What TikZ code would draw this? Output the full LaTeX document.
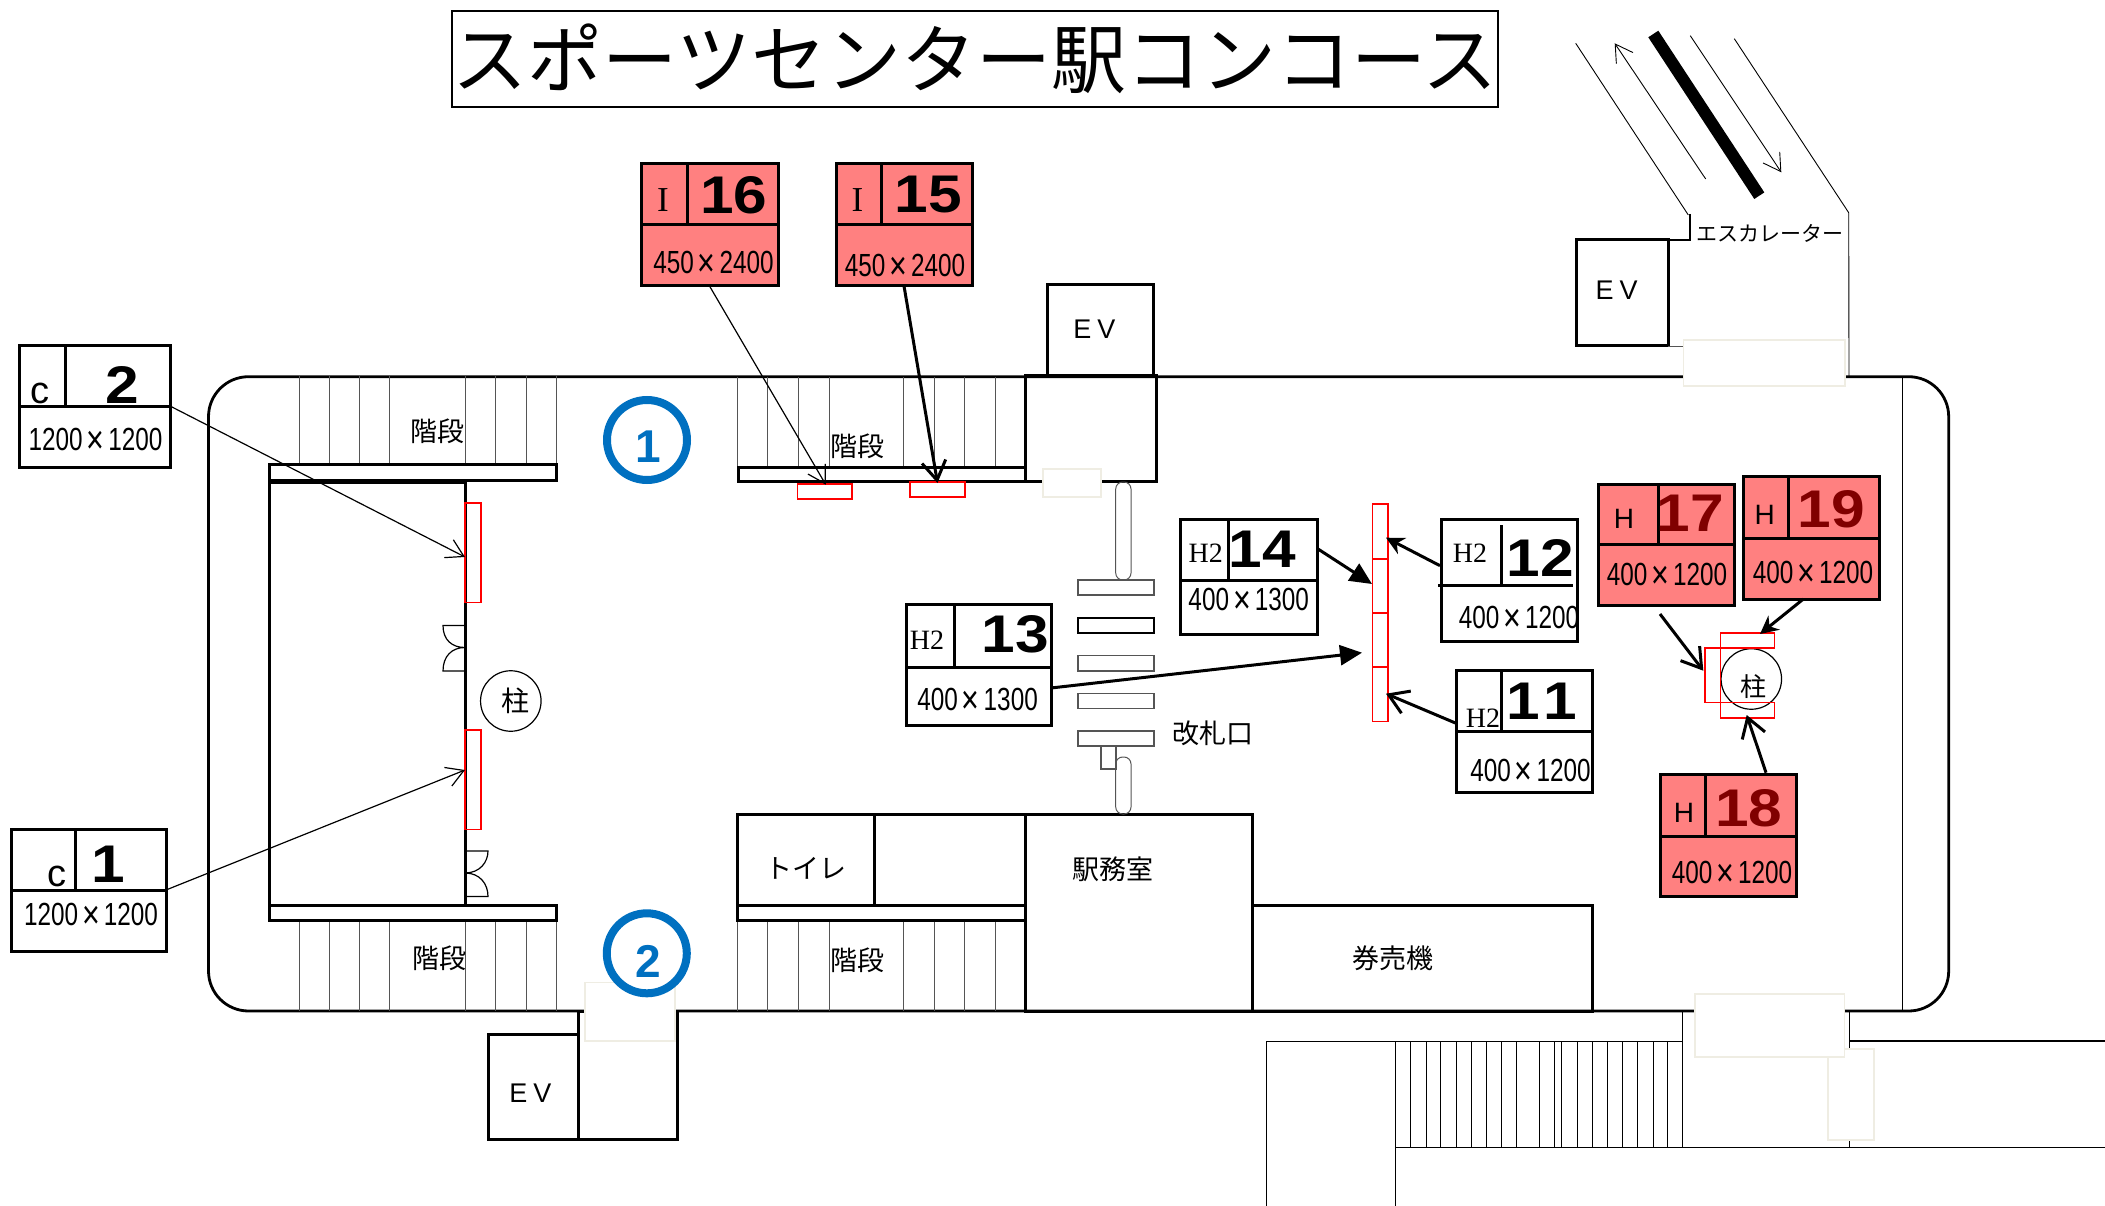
\documentclass[tikz,border=0pt]{standalone}
\usepackage{graphicx}
\usepackage{fontspec}
\usetikzlibrary{arrows.meta}
\setmainfont{Noto Sans CJK JP}
\newfontfamily\numf[FakeStretch=1.14]{Liberation Sans}
\newfontfamily\dimf[FakeStretch=0.76]{Liberation Sans}
\newfontfamily\plainf{Liberation Sans}
\newfontfamily\serf{Liberation Serif}
\newcommand{\fnum}{\numf\bfseries\fontsize{53}{53}\selectfont}
\newcommand{\fdim}{\dimf\fontsize{32}{32}\selectfont}
\newcommand{\fjp}{\fontsize{27}{27}\selectfont}
\newcommand{\fpil}{\fontsize{28}{28}\selectfont}
\newcommand{\fpilr}{\fontsize{26}{26}\selectfont}
\newcommand{\fev}{\plainf\fontsize{27}{27}\selectfont}
\newcommand{\fser}{\serf\fontsize{28}{28}\selectfont}
\newcommand{\fseri}{\serf\fontsize{35}{35}\selectfont}
\newcommand{\fh}{\plainf\fontsize{28}{28}\selectfont}
\newcommand{\fc}{\plainf\fontsize{38}{38}\selectfont}
\newcommand{\fring}{\plainf\bfseries\fontsize{46}{46}\selectfont\color{bluering}}
\newcommand{\dims}[2]{#1\kern4pt\raisebox{-2.7pt}{\fontsize{40}{40}\selectfont ×}\kern4pt#2}
\definecolor{pinkfill}{HTML}{FF8080}
\definecolor{creamline}{HTML}{EFEDE3}
\definecolor{bluering}{HTML}{0070C0}
\definecolor{darkred}{HTML}{800000}
\definecolor{stairgrey}{HTML}{555555}
\newcommand{\rbox}[6]{%
  \pgfmathsetmacro{\rw}{#4-(#2)}\pgfmathsetmacro{\rh}{#5-(#3)}%
  \node[#6,minimum width=\rw pt,minimum height=\rh pt,inner sep=0pt,outer sep=0pt] (#1) at ({(#2+#4)/2},{(#3+#5)/2}) {};}
\newcommand{\tx}[5]{\node[inner sep=0pt,font=#4] (#1) at (#2,#3) {#5};}
\newcommand{\sign}[8]{%
  \rbox{#1}{#2}{#3}{#4}{#5}{wall,fill=#8}%
  \draw[wall] (#6,#3) -- (#6,#7);
  \draw[wall] (#2,#7) -- (#4,#7);}
\tikzset{
  wall/.style={draw=black,line width=3pt},
  thinline/.style={draw=black,line width=0.9pt},
  stair/.style={draw=stairgrey,line width=0.9pt},
  redmark/.style={draw=red,line width=1.4pt},
  cream/.style={draw=creamline,line width=1.6pt,fill=white},
  ring/.style={draw=bluering,line width=8pt,fill=white,circle},
  barbthin/.style={-{Straight Barb[length=17pt,width=20pt]},line width=1.2pt},
  barbthick/.style={-{Straight Barb[length=19pt,width=24pt]},line width=3pt},
  solidthick/.style={-{Triangle[length=22pt,width=20pt]},line width=3pt}
}
\begin{document}
\begin{tikzpicture}[x=1pt,y=-1pt]
\useasboundingbox (0,0) rectangle (2105,1206);
% title
\node[draw=black,line width=1.5pt,minimum width=1046pt,minimum height=96pt,inner sep=0pt,font=\fontsize{75}{75}\selectfont] (title) at (975,59) {スポーツセンター駅コンコース};
% concourse outline
\draw[wall,line width=2.8pt,rounded corners=40pt] (208.5,376.7) rectangle (1948.7,1011);
\draw[thinline] (1902.7,376.7) -- (1902.7,1011);
% stairs
\foreach \sx in {299,329.5,359.4,389.7,465.6,495.5,526,556} {
  \draw[stair] (\sx,376) -- (\sx,465);
  \draw[stair] (\sx,920) -- (\sx,1011);
}
\foreach \sx in {737.8,767.6,798,829,903.5,934,964.7,995} {
  \draw[stair] (\sx,376.7) -- (\sx,467);
  \draw[stair] (\sx,920.7) -- (\sx,1011);
}
% rooms
\rbox{bandtl}{269}{464.7}{556}{480}{wall}
\rbox{bandbl}{269}{905}{556}{920}{wall}
\rbox{roomL}{269}{482}{465}{905}{wall}
\rbox{bandtm}{738}{467}{1025.6}{481.7}{wall}
\rbox{evshaftT}{1025.6}{375}{1156}{481.7}{wall}
\rbox{evT}{1047.8}{285}{1153.8}{375}{wall}
\rbox{toilet}{737.9}{814}{874}{905}{wall}
\rbox{toilet2}{874}{814}{1025}{905}{wall}
\rbox{bandbm}{737.9}{905}{1025}{920.7}{wall}
\rbox{office}{1025}{814}{1252}{1011}{wall}
\rbox{ticket}{1252}{905}{1592}{1011}{wall}
\rbox{evB}{488}{1034}{578.8}{1139.7}{wall}
\rbox{shaftB}{578.8}{1011}{677}{1139.7}{wall}
\rbox{evR}{1576.7}{240}{1668.3}{346}{wall}
% doors
\draw[thinline,line width=1.2pt] (465,625.5) -- (443,625.5) .. controls (443,640) and (452,647.5) .. (465,647.5) .. controls (452,647.5) and (443,656) .. (443,671) -- (465,671);
\draw[thinline,line width=1.2pt] (465,851) -- (488,851) .. controls (488,862) and (480,873) .. (465,873) .. controls (480,873) and (488,884) .. (488,896.5) -- (465,896.5);
% gates
\rbox{pillT}{1115.7}{482}{1131}{580}{draw=stairgrey,line width=1pt,rounded corners=7pt}
\rbox{pillB}{1115.7}{757}{1131}{814}{draw=stairgrey,line width=1pt,rounded corners=7pt}
\rbox{gate1}{1078}{580}{1154}{595}{draw=stairgrey,line width=1.1pt}
\rbox{gate2}{1078}{618}{1154}{633}{draw=black,line width=1.1pt}
\rbox{gate3}{1078}{655.7}{1154}{671}{draw=stairgrey,line width=1.1pt}
\rbox{gate4}{1078}{693.7}{1154}{708.7}{draw=stairgrey,line width=1.1pt}
\rbox{gate5}{1078}{731}{1154}{746}{draw=stairgrey,line width=1.1pt}
\rbox{gate6}{1101}{746}{1116}{769}{draw=stairgrey,line width=1.1pt}
% escalator
\draw[thinline] (1575.7,43.3) -- (1688.3,215);
\draw[line width=2.5pt] (1690,214) -- (1690,240) -- (1668.3,240);
\draw[line width=12pt] (1653.3,34) -- (1759.3,195.7);
\draw[thinline] (1734.3,38.7) -- (1848.7,212.7) -- (1849,376);
\coordinate (escAs) at (1705.7,179);
\coordinate (escAe) at (1614.7,43.3);
\coordinate (escBs) at (1690.3,35.7);
\coordinate (escBe) at (1781.3,172.3);
\draw[barbthin,line width=0.9pt] (escAs) -- (escAe);
\draw[barbthin,line width=0.9pt] (escBs) -- (escBe);
\draw[stair] (1668.3,346) -- (1683.3,346);
% lower stairs
\draw[thinline] (1266.4,1206) -- (1266.4,1041.3) -- (1682.4,1041.3) -- (1682.4,1011);
\draw[thinline] (1395.6,1206) -- (1395.6,1147.3) -- (1849,1147.3) -- (1849,1011);
\draw[line width=1.8pt] (1849,1041.3) -- (2105,1041.3);
\draw[line width=1.6pt] (1849,1147.3) -- (2105,1147.3);
\foreach \sx in {267,295,323,350,378,406,434,461,489,531,559,572,600,628,656,683,711,739,766,793} {
  \draw[thinline] ({1250+\sx/1.834},1041.3) -- ({1250+\sx/1.834},1147.3);
}
% cream patches
\rbox{cr1}{1042.8}{469}{1101}{497}{cream}
\rbox{cr2}{1683.3}{340}{1845}{386}{cream}
\rbox{cr3}{1828}{1049}{1873.8}{1140}{cream}
\rbox{cr4}{1695}{994}{1844.3}{1056.7}{cream}
\rbox{cr5}{584.8}{982.3}{674.8}{1041}{cream}
% rings and columns
\node[ring,minimum size=80pt,inner sep=0pt] (ring1) at (647,440) {};
\tx{ring1t}{648}{447}{\fring}{1}
\node[ring,minimum size=80pt,inner sep=0pt] (ring2) at (646.8,953.3) {};
\tx{ring2t}{648.4}{961.7}{\fring}{2}
\node[draw=black,line width=1.2pt,circle,minimum size=60.5pt,inner sep=0pt] (colL) at (510.8,701) {};
\tx{colLt}{515.6}{701}{\fpil}{柱}
\node[draw=black,line width=1.2pt,circle,minimum size=60.5pt,inner sep=0pt] (colR) at (1751.3,679) {};
\tx{colRt}{1753}{687}{\fpilr}{柱}
% red markers
\rbox{mk2}{465}{503}{481}{602.6}{redmark}
\rbox{mk1}{465}{730}{481}{829.6}{redmark}
\rbox{mk16}{797.5}{484}{851.8}{499}{redmark}
\rbox{mk15}{910}{482}{965}{497}{redmark}
\rbox{mkA}{1372.5}{504}{1388}{559}{redmark}
\rbox{mkB}{1372.5}{559}{1388}{613}{redmark}
\rbox{mkC}{1372.5}{613}{1388}{667}{redmark}
\rbox{mkD}{1372.5}{667}{1388}{721.7}{redmark}
\rbox{mkT}{1720.7}{633}{1774.7}{648}{redmark}
\rbox{mkL}{1705}{648}{1720.7}{702.3}{redmark}
\rbox{mkU}{1720.7}{702.3}{1774.7}{718}{redmark}
% sign boxes
\sign{b2}{19}{345.5}{170}{467}{65}{406}{white}
\tx{b2c}{39.7}{393}{\fc}{c}
\tx{b2n}{122.8}{385}{\fnum}{2}
\tx{b2d}{95.5}{441}{\fdim}{\dims{1200}{1200}}
\sign{b1}{11}{829.6}{166}{951}{75}{890}{white}
\tx{b1c}{56.7}{876}{\fc}{c}
\tx{b1n}{108}{864}{\fnum}{1}
\tx{b1d}{91}{916}{\fdim}{\dims{1200}{1200}}
\sign{b16}{641}{164}{778}{286}{687}{224.7}{pinkfill}
\tx{b16c}{663}{200}{\fseri}{I}
\tx{b16n}{734}{195}{\fnum}{16}
\tx{b16d}{713.5}{264}{\fdim}{\dims{450}{2400}}
\sign{b15}{836}{164}{972}{286}{881}{224.7}{pinkfill}
\tx{b15c}{857.5}{200}{\fseri}{I}
\tx{b15n}{928}{195}{\fnum}{15}
\tx{b15d}{905}{266.7}{\fdim}{\dims{450}{2400}}
\sign{b13}{906}{604}{1051}{725}{954.4}{667}{white}
\tx{b13c}{927}{640}{\fser}{H2}
\tx{b13n}{1015}{634}{\fnum}{13}
\tx{b13d}{977.6}{700.8}{\fdim}{\dims{400}{1300}}
\sign{b14}{1180}{519}{1317}{634}{1228.5}{580}{white}
\tx{b14c}{1205.7}{553}{\fser}{H2}
\tx{b14n}{1262.5}{549}{\fnum}{14}
\tx{b14d}{1248.7}{601}{\fdim}{\dims{400}{1300}}
\rbox{b12}{1441}{519}{1577}{641}{wall,fill=white}
\draw[wall] (1501,525) -- (1501,585);
\draw[wall] (1438,585) -- (1573,585);
\tx{b12c}{1470}{553}{\fser}{H2}
\tx{b12n}{1540}{558}{\fnum}{12}
\tx{b12d}{1519}{619}{\fdim}{\dims{400}{1200}}
\sign{b11}{1456}{670.7}{1592.6}{792}{1501.4}{731.7}{white}
\tx{b11c}{1483}{718}{\fser}{H2}
\tx{b11n}{1542}{701.7}{\fnum}{1\kern3pt 1}
\tx{b11d}{1530.5}{772}{\fdim}{\dims{400}{1200}}
\sign{b17}{1598}{484}{1734.6}{605}{1658.5}{544}{pinkfill}
\tx{b17c}{1624}{519}{\fh}{H}
\tx{b17n}{1690.5}{513}{\fnum\color{darkred}}{17}
\tx{b17d}{1667}{576}{\fdim}{\dims{400}{1200}}
\sign{b19}{1743}{476.6}{1879}{599}{1788}{538.7}{pinkfill}
\tx{b19c}{1764.6}{515}{\fh}{H}
\tx{b19n}{1831}{509}{\fnum\color{darkred}}{19}
\tx{b19d}{1813}{574}{\fdim}{\dims{400}{1200}}
\sign{b18}{1660}{774}{1796}{896}{1705.5}{836}{pinkfill}
\tx{b18c}{1684}{812.7}{\fh}{H}
\tx{b18n}{1748.6}{808}{\fnum\color{darkred}}{18}
\tx{b18d}{1732}{874}{\fdim}{\dims{400}{1200}}
% room labels
\tx{lbEVt}{1094.4}{329}{\fev}{E\kern6pt V}
\tx{lbEVr}{1616.7}{290.7}{\fev}{E\kern6pt V}
\tx{lbEVb}{530.5}{1093.3}{\fev}{E\kern6pt V}
\tx{lbEsc}{1770}{233}{\fontsize{21}{21}\selectfont}{エスカレーター}
\tx{lbSt1}{437.6}{431}{\fjp}{階段}
\tx{lbSt2}{857}{446}{\fjp}{階段}
\tx{lbSt3}{439}{958}{\fjp}{階段}
\tx{lbSt4}{857}{960}{\fjp}{階段}
\tx{lbGate}{1213}{733}{\fjp}{改札口}
\tx{lbToilet}{806.4}{868}{\fjp}{トイレ}
\tx{lbOffice}{1113}{869}{\fjp}{駅務室}
\tx{lbTicket}{1393}{958}{\fjp}{券売機}
% connector ends
\coordinate (s2) at (170,406);
\coordinate (e2) at (465,557);
\coordinate (s1) at (166,890);
\coordinate (e1) at (465,770);
\coordinate (e16) at (825.8,484.7);
\coordinate (e15) at (937.5,483);
\coordinate (s14) at (1318,549);
\coordinate (e14) at (1372,584);
\coordinate (s12) at (1440,565.7);
\coordinate (e12) at (1386,537.7);
\coordinate (s13) at (1051,688);
\coordinate (e13) at (1362,652.7);
\coordinate (s11) at (1455.4,723);
\coordinate (e11) at (1386,693.7);
\coordinate (s17) at (1660,614);
\coordinate (e17) at (1703.3,670.7);
\coordinate (s19) at (1803.4,599);
\coordinate (e19) at (1760,634);
\coordinate (s18) at (1766,772.7);
\coordinate (e18) at (1746.7,715);
% connectors
\draw[barbthin] (s2) -- (e2);
\draw[barbthin] (s1) -- (e1);
\draw[barbthin] (b16.south) -- (e16);
\draw[barbthick] (b15.south) -- (e15);
\draw[solidthick] (s14) -- (e14);
\draw[barbthick,-{Stealth[length=18pt,width=18pt]}] (s12) -- (e12);
\draw[solidthick] (s13) -- (e13);
\draw[barbthick] (s11) -- (e11);
\draw[barbthick] (s17) -- (e17);
\draw[barbthick,-{Stealth[length=18pt,width=18pt]}] (s19) -- (e19);
\draw[barbthick] (s18) -- (e18);
\end{tikzpicture}
\end{document}
